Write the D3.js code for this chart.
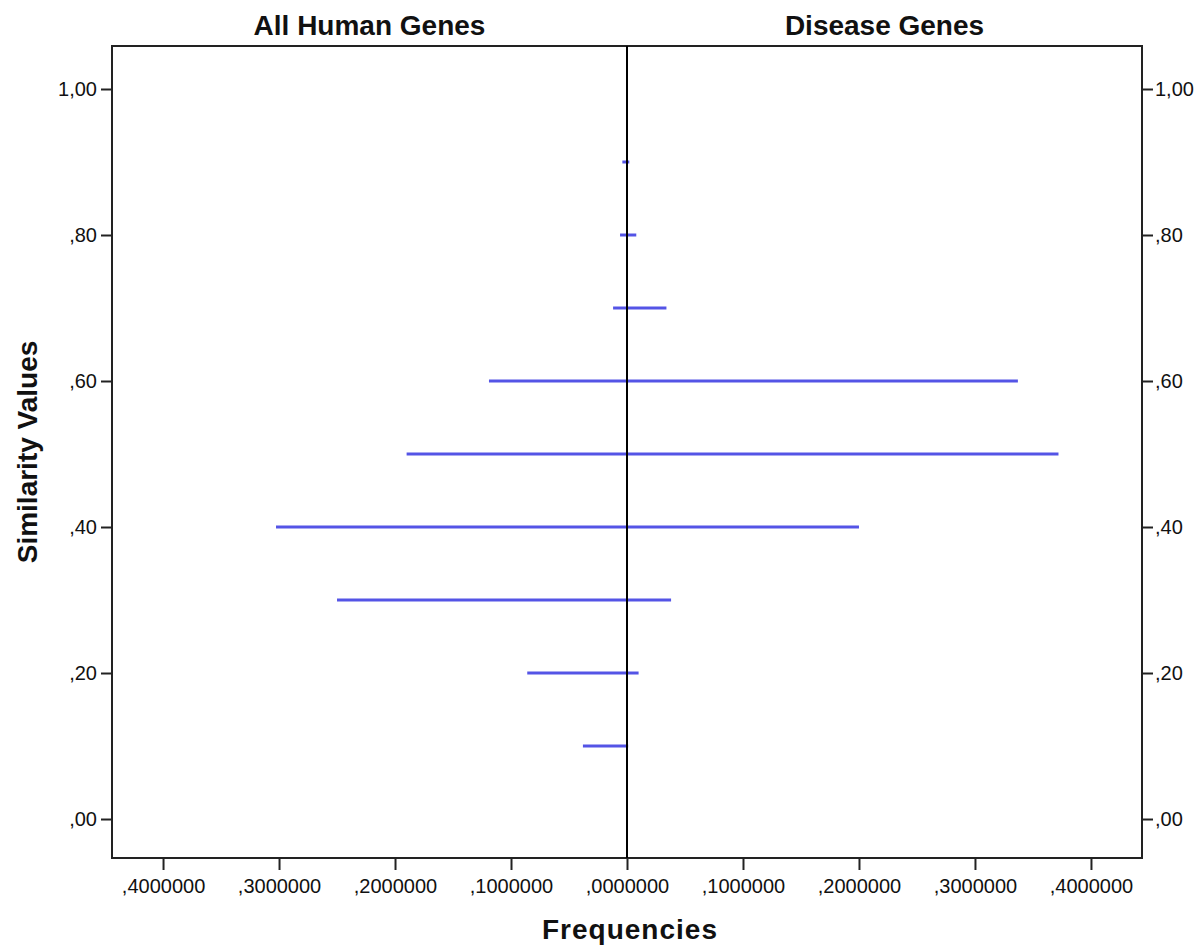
<!DOCTYPE html>
<html>
<head>
<meta charset="utf-8">
<script src="https://cdn.jsdelivr.net/npm/d3@7"></script>
<style>
  html, body { margin: 0; padding: 0; background: #fff; }
  svg { display: block; }
  text { font-family: "Liberation Sans", Arial, sans-serif; }
</style>
</head>
<body>
<svg id="chart" width="1199" height="946"></svg>
<script>
// Data
const similarity = [0.1, 0.2, 0.3, 0.4, 0.5, 0.6, 0.7, 0.8, 0.9];
const allHumanGenes = [0.038, 0.086, 0.250, 0.3026, 0.190, 0.119, 0.012, 0.006, 0.004];
const diseaseGenes = [0.001, 0.010, 0.038, 0.200, 0.372, 0.337, 0.034, 0.008, 0.002];
const xTicks = [-0.4, -0.3, -0.2, -0.1, 0, 0.1, 0.2, 0.3, 0.4];
const yTicks = [0, 0.2, 0.4, 0.6, 0.8, 1.0];
const panelTitles = ["All Human Genes", "Disease Genes"];

const svg = d3.select("#chart");
const pL = 112, pR = 1142, pT = 46, pB = 858;

const x = d3.scaleLinear().domain([-0.444, 0.444]).range([pL, pR]);
const y = d3.scaleLinear().domain([-0.0534, 1.0589]).range([pB, pT]);

function fmtX(v) {
  const s = Math.abs(v).toFixed(7).replace(".", ",");
  return s.startsWith("0") ? s.slice(1) : s;
}
function fmtY(v) {
  const s = v.toFixed(2).replace(".", ",");
  return s.startsWith("0") ? s.slice(1) : s;
}

// Frame
svg.append("rect")
  .attr("x", pL).attr("y", pT)
  .attr("width", pR - pL).attr("height", pB - pT)
  .attr("fill", "none").attr("stroke", "#222").attr("stroke-width", 2);

// Axes
const gB = svg.append("g").attr("transform", `translate(0,${pB})`)
  .call(d3.axisBottom(x).tickValues(xTicks).tickFormat(fmtX).tickSize(12).tickSizeOuter(0).tickPadding(9));
const gL = svg.append("g").attr("transform", `translate(${pL},0)`)
  .call(d3.axisLeft(y).tickValues(yTicks).tickFormat(fmtY).tickSize(11).tickSizeOuter(0).tickPadding(4));
const gR = svg.append("g").attr("transform", `translate(${pR},0)`)
  .call(d3.axisRight(y).tickValues(yTicks).tickFormat(fmtY).tickSize(11).tickSizeOuter(0).tickPadding(2));
[gB, gL, gR].forEach(g => {
  g.select(".domain").remove();
  g.selectAll(".tick line").attr("stroke", "#222").attr("stroke-width", 2);
  g.selectAll(".tick text").attr("fill", "#111").style("font-size", "20px");
});

// Bars (lines)
const lineColor = "#5454e6";
svg.append("g").selectAll("line")
  .data(similarity).join("line")
  .attr("x1", (d, i) => x(-allHumanGenes[i]))
  .attr("x2", x(0))
  .attr("y1", d => y(d)).attr("y2", d => y(d))
  .attr("stroke", lineColor).attr("stroke-width", 3);
svg.append("g").selectAll("line")
  .data(similarity).join("line")
  .attr("x1", x(0))
  .attr("x2", (d, i) => x(diseaseGenes[i]))
  .attr("y1", d => y(d)).attr("y2", d => y(d))
  .attr("stroke", lineColor).attr("stroke-width", 3);

// Center line
svg.append("line")
  .attr("x1", x(0)).attr("x2", x(0))
  .attr("y1", pT).attr("y2", pB)
  .attr("stroke", "#000").attr("stroke-width", 2);

// Titles
svg.append("text").attr("x", (pL + x(0)) / 2).attr("y", 35)
  .attr("text-anchor", "middle").style("font-size", "28px").style("font-weight", "bold")
  .attr("fill", "#111").text(panelTitles[0]);
svg.append("text").attr("x", (x(0) + pR) / 2).attr("y", 35)
  .attr("text-anchor", "middle").style("font-size", "28px").style("font-weight", "bold")
  .attr("fill", "#111").text(panelTitles[1]);

svg.append("text").attr("x", 630).attr("y", 939)
  .attr("text-anchor", "middle").style("font-size", "28px").style("font-weight", "bold")
  .style("letter-spacing", "1px")
  .attr("fill", "#111").text("Frequencies");

svg.append("text")
  .attr("transform", `translate(37,${(pT + pB) / 2}) rotate(-90)`)
  .attr("text-anchor", "middle").style("font-size", "28px").style("font-weight", "bold")
  .attr("fill", "#111").text("Similarity Values");
</script>
</body>
</html>
